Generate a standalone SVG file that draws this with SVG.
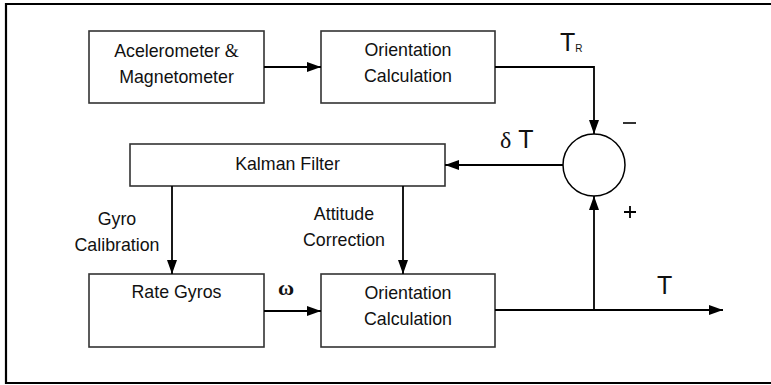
<svg xmlns="http://www.w3.org/2000/svg" width="771" height="385" viewBox="0 0 771 385">
<style>
.box{fill:#fff;stroke:#333;stroke-width:1.6}
.ln{fill:none;stroke:#000;stroke-width:1.8}
.t{font-family:"Liberation Sans",Arial,sans-serif;font-size:17.8px;fill:#111;text-anchor:middle}
.big{font-family:"Liberation Sans",Arial,sans-serif;font-size:25px;fill:#111}
.sym{font-family:"Liberation Serif","Times New Roman",serif}
</style>
<defs>
<marker id="ah" viewBox="0 0 14 10" refX="14" refY="5" markerWidth="14" markerHeight="10" markerUnits="userSpaceOnUse" orient="auto">
<path d="M0,0 L14,5 L0,10 Z" fill="#000"/>
</marker>
</defs>
<rect width="771" height="385" fill="#fff"/>
<path d="M771 4 H6 V383 H771" fill="none" stroke="#000" stroke-width="2.2"/>

<g id="accel">
<rect class="box" x="89" y="31" width="175" height="72"/>
<text class="t" x="176.5" y="57">Acelerometer <tspan class="sym" font-size="18">&amp;</tspan></text>
<text class="t" x="176.5" y="83">Magnetometer</text>
</g>
<g id="orient1">
<rect class="box" x="321" y="31" width="174" height="72"/>
<text class="t" x="408" y="56">Orientation</text>
<text class="t" x="408" y="82">Calculation</text>
</g>
<g id="kalman">
<rect class="box" x="130" y="144" width="315" height="42"/>
<text class="t" x="287.5" y="170">Kalman Filter</text>
</g>
<g id="gyros">
<rect class="box" x="89" y="274" width="175" height="73"/>
<text class="t" x="176.5" y="298">Rate Gyros</text>
</g>
<g id="orient2">
<rect class="box" x="321" y="274" width="174" height="73"/>
<text class="t" x="408" y="299">Orientation</text>
<text class="t" x="408" y="325">Calculation</text>
</g>
<g id="sum">
<circle cx="594" cy="165" r="31" fill="#fff" stroke="#000" stroke-width="1.5"/>
</g>

<g id="connectors">
<line class="ln" x1="264" y1="67" x2="321" y2="67" marker-end="url(#ah)"/>
<polyline class="ln" points="495,67 594,67 594,134" marker-end="url(#ah)"/>
<line class="ln" x1="563" y1="165" x2="445" y2="165" marker-end="url(#ah)"/>
<line class="ln" x1="172" y1="186" x2="172" y2="274" marker-end="url(#ah)"/>
<line class="ln" x1="403" y1="186" x2="403" y2="274" marker-end="url(#ah)"/>
<line class="ln" x1="264" y1="311" x2="321" y2="311" marker-end="url(#ah)"/>
<line class="ln" x1="495" y1="310" x2="723" y2="310" marker-end="url(#ah)"/>
<line class="ln" x1="594" y1="310" x2="594" y2="196" marker-end="url(#ah)"/>
</g>

<g id="labels">
<text class="big" x="560" y="51">T<tspan font-size="10" dy="1">R</tspan></text>
<text class="big" x="500" y="148"><tspan class="sym" font-size="24">δ</tspan> T</text>
<text class="big" x="657" y="294">T</text>
<line x1="623" y1="123" x2="636" y2="123" stroke="#000" stroke-width="1.6"/>
<path d="M624 212 H636 M630 206 V218" stroke="#000" stroke-width="1.8" fill="none"/>
<text class="t" x="117" y="225">Gyro</text>
<text class="t" x="117" y="251">Calibration</text>
<text class="t" x="344" y="220">Attitude</text>
<text class="t" x="344" y="246">Correction</text>
<text x="286" y="295" font-family="'Liberation Serif','Times New Roman',serif" font-size="22" font-weight="bold" fill="#111" text-anchor="middle">ω</text>
</g>
</svg>
